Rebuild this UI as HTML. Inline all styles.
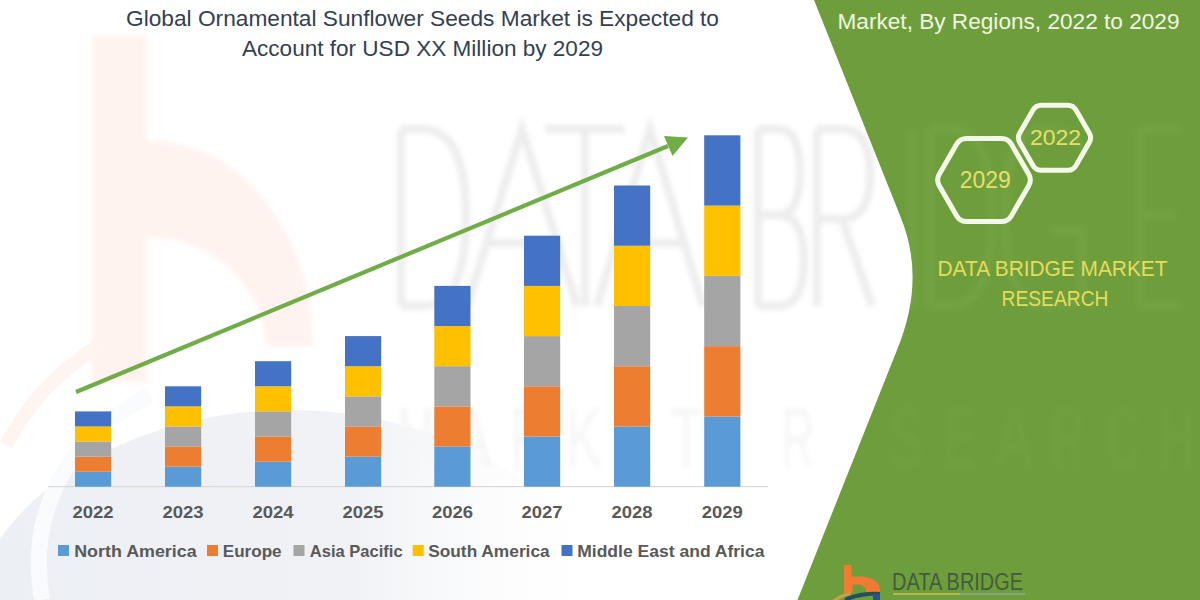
<!DOCTYPE html>
<html><head><meta charset="utf-8">
<style>
html,body{margin:0;padding:0;background:#fff;}
body{width:1200px;height:600px;overflow:hidden;position:relative;}
svg{display:block;position:absolute;left:0;top:0;}
text{font-family:"Liberation Sans",sans-serif;}
.yr{font-weight:bold;font-size:16px;fill:#595959;}
.lg{font-weight:bold;font-size:16.5px;fill:#595959;}
.ttl{font-size:22px;fill:#333F52;}
</style></head>
<body>
<svg width="1200" height="600" viewBox="0 0 1200 600">
<rect width="1200" height="600" fill="#ffffff"/>
<!-- watermark b -->
<g fill="#FFF3EF" filter="url(#bl)">
<rect x="92" y="36" width="54" height="346"/>
<path d="M146,141 L150,141 A163,205 0 0 1 313,346 L265,346 A115,108 0 0 0 150,238 L146,238 Z"/>
</g>
<!-- watermark swoosh -->
<defs><linearGradient id="tg" x1="0" y1="0" x2="1" y2="0"><stop offset="0" stop-color="#ECEFF4"/><stop offset="0.6" stop-color="#F0F2F6"/><stop offset="1" stop-color="#FFFFFF" stop-opacity="0"/></linearGradient></defs>
<ellipse cx="290" cy="655" rx="330" ry="245" fill="url(#tg)"/>
<path d="M42,600 C28,520 60,440 150,395" fill="none" stroke="#FAFBFC" stroke-width="16"/>
<path d="M6,445 C30,400 60,370 100,345" fill="none" stroke="#FEF4F0" stroke-width="14"/>
<!-- DATABRIDGE watermark -->
<defs><filter id="bl" x="-10%" y="-10%" width="120%" height="120%"><feGaussianBlur stdDeviation="2.5"/></filter></defs>
<g fill="none" stroke="#EDEDED" stroke-width="8" filter="url(#bl)">
<path d="M401,129 L401,306 M401,129 L422,129 Q466,129 466,217 Q466,306 422,306 L401,306"/>
<path d="M467,306 L522,129 L577,306 M487,243 L558,243"/>
<path d="M545,129 L625,129 M585,129 L585,306"/>
<path d="M597,306 L650,129 L703,306 M616,243 L684,243"/>
<path d="M758,129 L758,306 M758,129 L778,129 Q800,129 800,172 Q800,215 778,215 L758,215 M778,215 Q804,215 804,260 Q804,306 778,306 L758,306"/>
<path d="M817,129 L817,306 M817,129 L842,129 Q870,129 870,174 Q870,219 842,219 L817,219 M842,219 L872,306"/>
</g>
<!-- MARKET RESEARCH watermark -->
<g font-size="86" fill="#F6F6F6" filter="url(#bl)">
<text x="397" y="467" textLength="38" lengthAdjust="spacingAndGlyphs">M</text>
<text x="455" y="467" textLength="36" lengthAdjust="spacingAndGlyphs">A</text>
<text x="511" y="467" textLength="32" lengthAdjust="spacingAndGlyphs">R</text>
<text x="566" y="467" textLength="36" lengthAdjust="spacingAndGlyphs">K</text>
<text x="622" y="467" textLength="30" lengthAdjust="spacingAndGlyphs">E</text>
<text x="670" y="467" textLength="32" lengthAdjust="spacingAndGlyphs">T</text>
<text x="782" y="467" textLength="32" lengthAdjust="spacingAndGlyphs">R</text>
</g>
<!-- green panel -->
<path d="M814,0 L1200,0 L1200,600 L797.5,600 L897,350 Q926,280 901,218 Z" fill="#6E9E3B"/>
<g fill="none" stroke="#FFFFFF" stroke-opacity="0.045" stroke-width="8" filter="url(#bl)">
<path d="M912,129 L912,306"/>
<path d="M930,129 L930,306 M930,129 L950,129 Q992,129 992,217 Q992,306 950,306 L930,306"/>
<path d="M1085,150 Q1070,129 1045,129 Q1005,129 1005,217 Q1005,306 1045,306 Q1078,306 1082,290 L1082,230 L1050,230"/>
<path d="M1140,129 L1140,306 M1140,129 L1180,129 M1140,215 L1175,215 M1140,306 L1180,306"/>
</g>
<g font-size="86" fill="#FFFFFF" fill-opacity="0.02" filter="url(#bl)">
<text x="890" y="467" textLength="32" lengthAdjust="spacingAndGlyphs">S</text>
<text x="944" y="467" textLength="30" lengthAdjust="spacingAndGlyphs">E</text>
<text x="996" y="467" textLength="36" lengthAdjust="spacingAndGlyphs">A</text>
<text x="1052" y="467" textLength="32" lengthAdjust="spacingAndGlyphs">R</text>
<text x="1106" y="467" textLength="34" lengthAdjust="spacingAndGlyphs">C</text>
<text x="1160" y="467" textLength="34" lengthAdjust="spacingAndGlyphs">H</text>
</g>
<!-- title -->
<text x="126" y="26" class="ttl" textLength="593" lengthAdjust="spacingAndGlyphs">Global Ornamental Sunflower Seeds Market is Expected to</text>
<text x="242" y="56" class="ttl" textLength="361" lengthAdjust="spacingAndGlyphs">Account for USD XX Million by 2029</text>
<!-- axis -->
<rect x="48" y="486" width="720" height="1.2" fill="#D9D9D9"/>
<rect x="75" y="471.64" width="36.2" height="15.06" fill="#5B9BD5"/>
<rect x="75" y="456.58" width="36.2" height="15.06" fill="#ED7D31"/>
<rect x="75" y="441.52" width="36.2" height="15.06" fill="#A5A5A5"/>
<rect x="75" y="426.46" width="36.2" height="15.06" fill="#FFC000"/>
<rect x="75" y="411.40" width="36.2" height="15.06" fill="#4472C4"/>
<rect x="165" y="466.62" width="36.2" height="20.08" fill="#5B9BD5"/>
<rect x="165" y="446.54" width="36.2" height="20.08" fill="#ED7D31"/>
<rect x="165" y="426.46" width="36.2" height="20.08" fill="#A5A5A5"/>
<rect x="165" y="406.38" width="36.2" height="20.08" fill="#FFC000"/>
<rect x="165" y="386.30" width="36.2" height="20.08" fill="#4472C4"/>
<rect x="255" y="461.60" width="36.2" height="25.10" fill="#5B9BD5"/>
<rect x="255" y="436.50" width="36.2" height="25.10" fill="#ED7D31"/>
<rect x="255" y="411.40" width="36.2" height="25.10" fill="#A5A5A5"/>
<rect x="255" y="386.30" width="36.2" height="25.10" fill="#FFC000"/>
<rect x="255" y="361.20" width="36.2" height="25.10" fill="#4472C4"/>
<rect x="345" y="456.58" width="36.2" height="30.12" fill="#5B9BD5"/>
<rect x="345" y="426.46" width="36.2" height="30.12" fill="#ED7D31"/>
<rect x="345" y="396.34" width="36.2" height="30.12" fill="#A5A5A5"/>
<rect x="345" y="366.22" width="36.2" height="30.12" fill="#FFC000"/>
<rect x="345" y="336.10" width="36.2" height="30.12" fill="#4472C4"/>
<rect x="434.3" y="446.54" width="36.2" height="40.16" fill="#5B9BD5"/>
<rect x="434.3" y="406.38" width="36.2" height="40.16" fill="#ED7D31"/>
<rect x="434.3" y="366.22" width="36.2" height="40.16" fill="#A5A5A5"/>
<rect x="434.3" y="326.06" width="36.2" height="40.16" fill="#FFC000"/>
<rect x="434.3" y="285.90" width="36.2" height="40.16" fill="#4472C4"/>
<rect x="524" y="436.50" width="36.2" height="50.20" fill="#5B9BD5"/>
<rect x="524" y="386.30" width="36.2" height="50.20" fill="#ED7D31"/>
<rect x="524" y="336.10" width="36.2" height="50.20" fill="#A5A5A5"/>
<rect x="524" y="285.90" width="36.2" height="50.20" fill="#FFC000"/>
<rect x="524" y="235.70" width="36.2" height="50.20" fill="#4472C4"/>
<rect x="614" y="426.46" width="36.2" height="60.24" fill="#5B9BD5"/>
<rect x="614" y="366.22" width="36.2" height="60.24" fill="#ED7D31"/>
<rect x="614" y="305.98" width="36.2" height="60.24" fill="#A5A5A5"/>
<rect x="614" y="245.74" width="36.2" height="60.24" fill="#FFC000"/>
<rect x="614" y="185.50" width="36.2" height="60.24" fill="#4472C4"/>
<rect x="704.2" y="416.42" width="36.2" height="70.28" fill="#5B9BD5"/>
<rect x="704.2" y="346.14" width="36.2" height="70.28" fill="#ED7D31"/>
<rect x="704.2" y="275.86" width="36.2" height="70.28" fill="#A5A5A5"/>
<rect x="704.2" y="205.58" width="36.2" height="70.28" fill="#FFC000"/>
<rect x="704.2" y="135.30" width="36.2" height="70.28" fill="#4472C4"/>
<text x="93.10" y="518" text-anchor="middle" textLength="41" lengthAdjust="spacingAndGlyphs" class="yr">2022</text>
<text x="183.10" y="518" text-anchor="middle" textLength="41" lengthAdjust="spacingAndGlyphs" class="yr">2023</text>
<text x="273.10" y="518" text-anchor="middle" textLength="41" lengthAdjust="spacingAndGlyphs" class="yr">2024</text>
<text x="363.10" y="518" text-anchor="middle" textLength="41" lengthAdjust="spacingAndGlyphs" class="yr">2025</text>
<text x="452.40" y="518" text-anchor="middle" textLength="41" lengthAdjust="spacingAndGlyphs" class="yr">2026</text>
<text x="542.10" y="518" text-anchor="middle" textLength="41" lengthAdjust="spacingAndGlyphs" class="yr">2027</text>
<text x="632.10" y="518" text-anchor="middle" textLength="41" lengthAdjust="spacingAndGlyphs" class="yr">2028</text>
<text x="722.30" y="518" text-anchor="middle" textLength="41" lengthAdjust="spacingAndGlyphs" class="yr">2029</text>
<!-- arrow -->
<line x1="76" y1="392" x2="668" y2="146" stroke="#70AD47" stroke-width="4.2" stroke-linecap="butt"/>
<polygon points="688,137.5 664,136 672.5,156" fill="#70AD47"/>
<!-- legend -->
<rect x="58" y="545" width="11" height="11" fill="#5B9BD5"/>
<text x="74.2" y="556.7" class="lg" textLength="122.5" lengthAdjust="spacingAndGlyphs">North America</text>
<rect x="207" y="545" width="11" height="11" fill="#ED7D31"/>
<text x="222.8" y="556.7" class="lg" textLength="58.8" lengthAdjust="spacingAndGlyphs">Europe</text>
<rect x="293.5" y="545" width="11" height="11" fill="#A5A5A5"/>
<text x="309.8" y="556.7" class="lg" textLength="92.8" lengthAdjust="spacingAndGlyphs">Asia Pacific</text>
<rect x="412.7" y="545" width="11" height="11" fill="#FFC000"/>
<text x="428.2" y="556.7" class="lg" textLength="121.5" lengthAdjust="spacingAndGlyphs">South America</text>
<rect x="561.5" y="545" width="11" height="11" fill="#4472C4"/>
<text x="577.2" y="556.7" class="lg" textLength="187.3" lengthAdjust="spacingAndGlyphs">Middle East and Africa</text>
<!-- right header -->
<text x="837.5" y="28.8" font-size="21.8" fill="#F0F7E2" textLength="342" lengthAdjust="spacingAndGlyphs">Market, By Regions, 2022 to 2029</text>
<!-- hexagons -->
<path d="M1028.75,174.37 Q1032.00,180.00 1028.75,185.63 L1011.25,215.94 Q1008.00,221.57 1001.50,221.57 L966.50,221.57 Q960.00,221.57 956.75,215.94 L939.25,185.63 Q936.00,180.00 939.25,174.37 L956.75,144.06 Q960.00,138.43 966.50,138.43 L1001.50,138.43 Q1008.00,138.43 1011.25,144.06 Z" fill="none" stroke="#F4F8E8" stroke-width="5"/>
<path d="M1089.25,132.99 Q1092.00,137.75 1089.25,142.51 L1076.00,165.46 Q1073.25,170.23 1067.75,170.23 L1041.25,170.23 Q1035.75,170.23 1033.00,165.46 L1019.75,142.51 Q1017.00,137.75 1019.75,132.99 L1033.00,110.04 Q1035.75,105.27 1041.25,105.27 L1067.75,105.27 Q1073.25,105.27 1076.00,110.04 Z" fill="none" stroke="#F4F8E8" stroke-width="5"/>
<text x="985.2" y="188.3" text-anchor="middle" font-size="23.5" fill="#E6E06A" textLength="51" lengthAdjust="spacingAndGlyphs">2029</text>
<text x="1055.5" y="145.3" text-anchor="middle" font-size="22.5" fill="#E6E06A" textLength="51" lengthAdjust="spacingAndGlyphs">2022</text>
<!-- DBMR text -->
<text x="937.5" y="275.6" font-size="22.5" fill="#E6DC5C" textLength="230" lengthAdjust="spacingAndGlyphs">DATA BRIDGE MARKET</text>
<text x="1001.5" y="305.5" font-size="22.5" fill="#E6DC5C" textLength="107" lengthAdjust="spacingAndGlyphs">RESEARCH</text>
<!-- bottom logo -->
<path d="M844,565 L851.5,565 L851.5,576.5 L860,576.5 Q880,577 880,592 L866,592 Q866,584.5 858,584.5 L852.5,584.5 L852.5,593 L844,593 Z" fill="#F27A32"/>
<path d="M832,600 Q842,593 850,592 L851,595 Q842,597 839,600 Z" fill="#C8A04A"/>
<path d="M846,597 Q862,591 880,592 L880,595.5 Q864,595 850,600 L844,600 Z" fill="#22505E"/>
<rect x="873" y="594" width="7" height="6" fill="#2E4E98"/>
<text x="892" y="590" font-size="23" fill="#435C3D" textLength="131" lengthAdjust="spacingAndGlyphs">DATA BRIDGE</text>
<rect x="893" y="593" width="67" height="2" fill="#B7B64C"/>
<rect x="960" y="593" width="65" height="2" fill="#87A383"/>
</svg>
</body></html>
